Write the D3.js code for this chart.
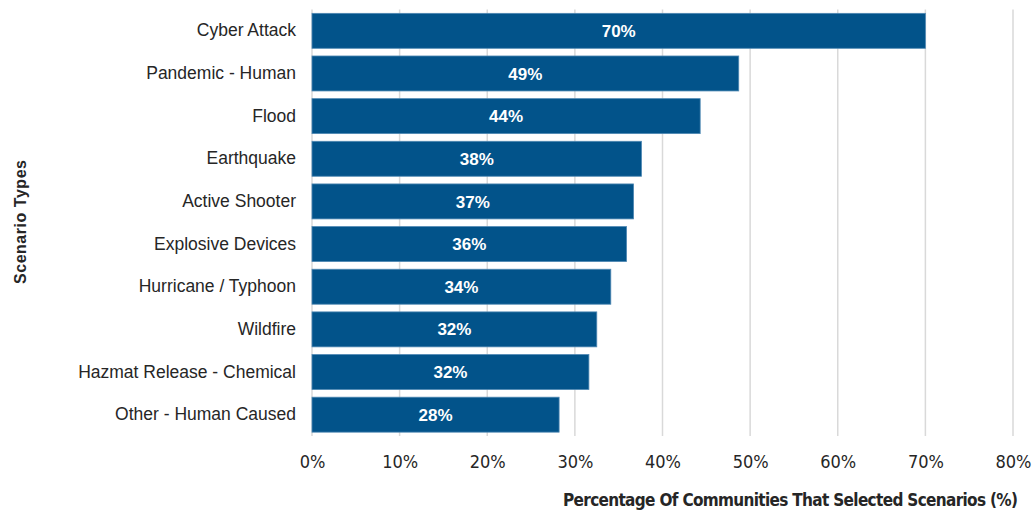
<!DOCTYPE html>
<html>
<head>
<meta charset="utf-8">
<script src="https://cdn.jsdelivr.net/npm/d3@7"></script>
<style>
  body { margin: 0; background: #fff; }
  text { font-family: "Liberation Sans", Arial, sans-serif; fill: #262626; }
</style>
</head>
<body>
<div id="chart"></div>
<script>
// data (top to bottom)
var scenarios = ["Cyber Attack", "Pandemic - Human", "Flood", "Earthquake", "Active Shooter",
    "Explosive Devices", "Hurricane / Typhoon", "Wildfire", "Hazmat Release - Chemical", "Other - Human Caused"];
var percents = [70.0, 48.7, 44.3, 37.6, 36.7, 35.9, 34.1, 32.5, 31.6, 28.2];
var valueLabels = ["70%", "49%", "44%", "38%", "37%", "36%", "34%", "32%", "32%", "28%"];
var xTicks = [0, 10, 20, 30, 40, 50, 60, 70, 80];

var W = 1032, H = 515;
var margin = { top: 9.5, right: 19, bottom: 79, left: 312 },
    width = W - margin.left - margin.right,
    height = H - margin.top - margin.bottom;

var svg = d3.select("#chart")
    .append("svg")
    .attr("width", W)
    .attr("height", H)
    .append("g")
    .attr("transform", "translate(" + margin.left + "," + margin.top + ")");

var x = d3.scaleLinear()
    .domain([0, 80])
    .range([0, width]);

var y = d3.scaleBand()
    .domain(scenarios)
    .range([0, height])
    .paddingInner(0.18)
    .paddingOuter(0.09);

// grid lines
svg.selectAll(".grid")
    .data(xTicks)
    .enter()
    .append("line")
    .attr("x1", d => x(d))
    .attr("x2", d => x(d))
    .attr("y1", 0)
    .attr("y2", height)
    .attr("stroke", "#d9d9d9")
    .attr("stroke-width", 1.5);

// x axis
var xAxis = svg.append("g")
    .attr("transform", "translate(0," + height + ")")
    .call(d3.axisBottom(x).tickValues(xTicks).tickFormat(d => d + "%").tickSize(0).tickPadding(19));
xAxis.select(".domain").remove();
xAxis.selectAll("text")
    .style("font-family", "'Liberation Sans Narrow', 'DejaVu Sans Condensed', Arial, sans-serif")
    .style("font-size", "18px")
    .style("fill", "#262626");

// y axis
var yAxis = svg.append("g")
    .call(d3.axisLeft(y).tickSize(0).tickPadding(16));
yAxis.select(".domain").remove();
yAxis.selectAll("text")
    .style("font-size", "17.5px")
    .style("fill", "#262626");

// bars
svg.selectAll(".bar")
    .data(percents)
    .enter()
    .append("rect")
    .attr("x", x(0))
    .attr("y", (d, i) => y(scenarios[i]))
    .attr("width", d => x(d))
    .attr("height", y.bandwidth())
    .attr("fill", "#02538a")
    .attr("stroke", "#4f88b3")
    .attr("stroke-width", 0.8);

// value labels
svg.selectAll(".val")
    .data(percents)
    .enter()
    .append("text")
    .attr("x", d => x(d) / 2)
    .attr("y", (d, i) => y(scenarios[i]) + y.bandwidth() / 2)
    .attr("dy", "0.36em")
    .attr("text-anchor", "middle")
    .style("fill", "#ffffff")
    .style("font-weight", "bold")
    .style("font-size", "17px")
    .text((d, i) => valueLabels[i]);

// axis titles
svg.append("text")
    .attr("x", 1018 - margin.left)
    .attr("y", 506 - margin.top)
    .attr("text-anchor", "end")
    .attr("textLength", 455)
    .style("font-family", "'Liberation Sans Narrow', 'DejaVu Sans Condensed', Arial, sans-serif")
    .style("font-weight", "bold")
    .style("font-size", "17px")
    .text("Percentage Of Communities That Selected Scenarios (%)");

svg.append("text")
    .attr("transform", "translate(" + (26 - margin.left) + "," + (222 - margin.top) + ") rotate(-90)")
    .attr("text-anchor", "middle")
    .attr("textLength", 124)
    .style("font-weight", "bold")
    .style("font-size", "16px")
    .text("Scenario Types");
</script>
</body>
</html>
